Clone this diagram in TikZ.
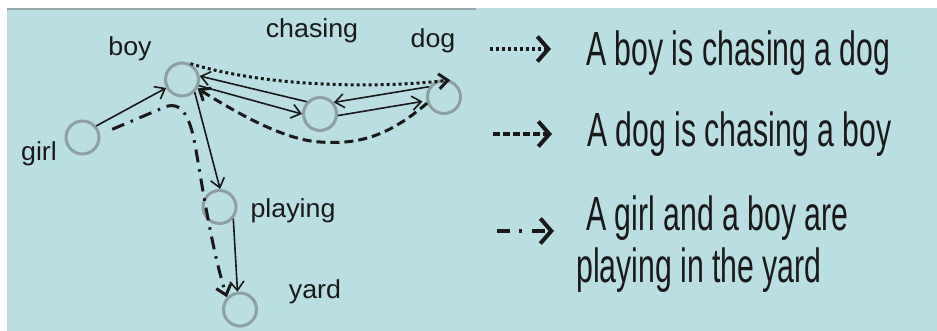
\documentclass[tikz,border=0pt]{standalone}
\usepackage{fontspec}
\setmainfont{Liberation Sans}
\newfontfamily\lblfont[FakeStretch=1.03]{Liberation Sans}
\newfontfamily\narrowfont[FakeStretch=0.63]{Liberation Sans}
\usetikzlibrary{arrows.meta,calc}
\definecolor{bg}{RGB}{185,223,227}
\definecolor{ring}{RGB}{140,160,163}
\definecolor{topline}{RGB}{150,168,170}
\definecolor{ink}{RGB}{25,25,25}
\begin{document}
\begin{tikzpicture}[x=1pt,y=-1pt,
  vert/.style={circle,draw=ring,line width=3pt,minimum size=33pt,inner sep=0pt},
  lbl/.style={font=\lblfont\fontsize{26}{29}\selectfont,text=ink,inner sep=0pt,anchor=base},
  leg/.style={font=\narrowfont\fontsize{48}{52}\selectfont,text=ink,inner sep=0pt,anchor=base west},
  sol/.style={draw=ink,line width=1.6pt,-{Straight Barb[length=9pt,width=14pt]}},
  dotl/.style={draw=ink,line width=3pt,dash pattern=on 3pt off 3pt,-{Straight Barb[length=9pt,width=15pt]}},
  dashl/.style={draw=ink,line width=3pt,dash pattern=on 9pt off 5pt,-{Straight Barb[length=9pt,width=15pt]}},
  ddl/.style={draw=ink,line width=3pt,dash pattern=on 13pt off 7pt on 2.5pt off 7pt,-{Straight Barb[length=9pt,width=15pt]}},
  legdot/.style={draw=ink,line width=4pt,dash pattern=on 3pt off 3pt,-{Straight Barb[length=11pt,width=25pt]}},
  legdash/.style={draw=ink,line width=4pt,dash pattern=on 7pt off 3pt,-{Straight Barb[length=11pt,width=25pt]}},
  legdd/.style={draw=ink,line width=4pt,dash pattern=on 13pt off 8.5pt on 3pt off 10.5pt,-{Straight Barb[length=11pt,width=25pt]}}
]
\useasboundingbox (0,0) rectangle (937,331);
\fill[bg] (7,8) rectangle (937,331);
\draw[topline,line width=2pt] (7,9) -- (476,9);

% vertices
\node[vert] (boy) at (182,79.5) {};
\node[vert] (girl) at (82.5,137.5) {};
\node[vert] (chasing) at (320,114) {};
\node[vert] (dog) at (444,97) {};
\node[vert] (playing) at (219.5,207) {};
\node[vert] (yard) at (240,309.5) {};

% labels
\node[lbl] (tboy) at (130,56) {boy};
\node[lbl] (tchasing) at (312,38) {chasing};
\node[lbl] (tdog) at (433,48) {dog};
\node[lbl] (tgirl) at (39,161) {girl};
\node[lbl] (tplaying) at (293,218) {playing};
\node[lbl] (tyard) at (315,298) {yard};

% solid edges
\draw[sol] (girl.40) -- (boy.208);
\draw[sol] (boy.-45) -- (playing.88);
\draw[sol] (playing.-40) -- (yard.98);
\draw[sol] (chasing.137) -- (boy.11);
\draw[sol] (boy.-20) -- (chasing.180);
\draw[sol] (dog.145) -- (chasing.40);
\draw[sol,shorten >=4pt] (chasing.-5) -- (dog.192);

% sentence paths
\draw[dotl] (boy.62) .. controls (270,88) and (380,88) .. (dog.70);
\draw[dashl] (dog.200) .. controls (390,135) and (360,145) .. (320,142)
   .. controls (285,140) and (240,115) .. (boy.-30);
\draw[ddl,shorten <=13pt] (girl.10) -- (165,107) .. controls (183,100) and (191,120) .. (196,150)
   .. controls (202,185) and (212,250) .. (yard.137);

% legend
\coordinate (a1) at (490,49);  \coordinate (b1) at (551,49);
\coordinate (a2) at (493,134); \coordinate (b2) at (552,134);
\coordinate (a3) at (497,231); \coordinate (b3) at (554,231);
\draw[legdot] (a1) -- (b1);
\draw[legdash] (a2) -- (b2);
\draw[legdd] (a3) -- (b3);
\node[leg] (l1) at (586,66) {A boy is chasing a dog};
\node[leg] (l2) at (587,147) {A dog is chasing a boy};
\node[leg] (l3) at (586,231) {A girl and a boy are};
\node[leg] (l4) at (576,282) {playing in the yard};
\end{tikzpicture}
\end{document}
